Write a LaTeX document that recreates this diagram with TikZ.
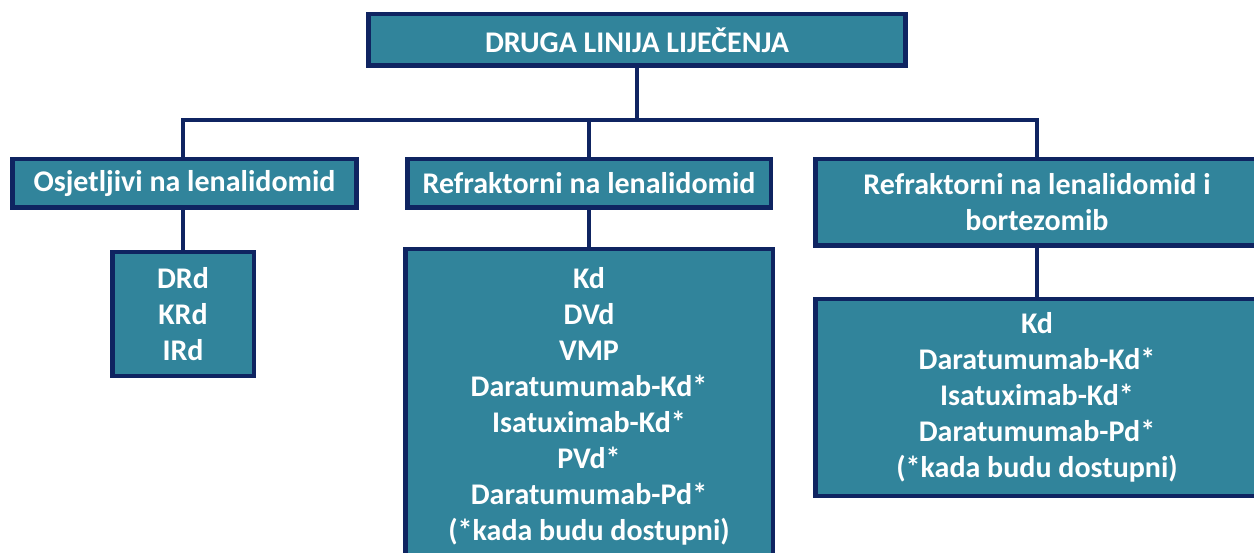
\documentclass[tikz,border=0pt]{standalone}
\usepackage{fontspec}
\setmainfont{Carlito}
\definecolor{boxfill}{HTML}{31849B}
\definecolor{navy}{HTML}{0F2461}
\begin{document}
\begin{tikzpicture}[x=1bp,y=-1bp,
  box/.style={draw=navy, fill=boxfill, line width=4.5bp, text=white,
    font=\fontsize{30bp}{36bp}\selectfont\bfseries, align=center, inner sep=0pt},
  link/.style={draw=navy, line width=4.5bp}]
\useasboundingbox (0,0) rectangle (1254,553);
\clip (0,0) rectangle (1254,553);
\node[box, minimum width=537bp, minimum height=51.5bp] (top) at (637,40) {DRUGA LINIJA LIJEČENJA};
\node[box, minimum width=344bp, minimum height=48.5bp] (sens) at (184.5,183.5) {Osjetljivi na lenalidomid};
\node[box, minimum width=363.5bp, minimum height=48.5bp] (refr) at (589,183.5) {Refraktorni na lenalidomid};
\node[box, minimum width=443.5bp, minimum height=86.5bp] (refrb) at (1037,202.5) {Refraktorni na lenalidomid i\\bortezomib};
\node[box, minimum width=141.5bp, minimum height=123.5bp] (sensc) at (183,314) {DRd\\KRd\\IRd};
\node[box, minimum width=367.5bp, minimum height=313.5bp] (refrc) at (589,406) {Kd\\DVd\\VMP\\Daratumumab-Kd*\\Isatuximab-Kd*\\PVd*\\Daratumumab-Pd*\\(*kada budu dostupni)};
\node[box, minimum width=443.5bp, minimum height=196.5bp] (refrbc) at (1037,397.5) {Kd\\Daratumumab-Kd*\\Isatuximab-Kd*\\Daratumumab-Pd*\\(*kada budu dostupni)};
\coordinate (bus) at (0,120);
\draw[link] (top.south) -- (top.south |- bus);
\draw[link] (sensc.north |- sens.north) -- (sensc.north |- bus) -- (refrb.north |- bus) -- (refrb.north);
\draw[link] (refr.north |- bus) -- (refr.north);
\draw[link] (sensc.north |- sens.south) -- (sensc.north);
\draw[link] (refr.south) -- (refrc.north);
\draw[link] (refrb.south) -- (refrbc.north);
\end{tikzpicture}
\end{document}
